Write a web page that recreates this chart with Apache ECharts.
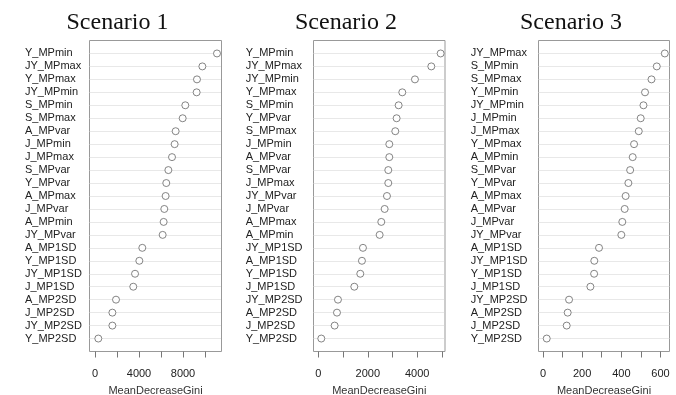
<!DOCTYPE html>
<html>
<head>
<meta charset="utf-8">
<script src="https://cdn.jsdelivr.net/npm/echarts@6/dist/echarts.min.js"></script>
<style>
html,body{margin:0;padding:0;background:#fff;}
#chart{width:676px;height:395px;}
</style>
</head>
<body>
<div id="chart"></div>
<script>
var titles = ['Scenario 1', 'Scenario 2', 'Scenario 3'];

var labels1 = ['Y_MPmin','JY_MPmax','Y_MPmax','JY_MPmin','S_MPmin','S_MPmax','A_MPvar','J_MPmin','J_MPmax','S_MPvar','Y_MPvar','A_MPmax','J_MPvar','A_MPmin','JY_MPvar','A_MP1SD','Y_MP1SD','JY_MP1SD','J_MP1SD','A_MP2SD','J_MP2SD','JY_MP2SD','Y_MP2SD'];
var values1 = [11090,9760,9270,9240,8210,7970,7330,7240,7000,6670,6480,6420,6300,6240,6150,4300,4030,3640,3480,1910,1580,1580,300];

var labels2 = ['Y_MPmin','JY_MPmax','JY_MPmin','Y_MPmax','S_MPmin','Y_MPvar','S_MPmax','J_MPmin','A_MPvar','S_MPvar','J_MPmax','JY_MPvar','J_MPvar','A_MPmax','A_MPmin','JY_MP1SD','A_MP1SD','Y_MP1SD','J_MP1SD','JY_MP2SD','A_MP2SD','J_MP2SD','Y_MP2SD'];
var values2 = [4946,4569,3908,3396,3248,3167,3113,2871,2871,2830,2830,2776,2682,2547,2480,1806,1765,1698,1456,795,755,660,121];

var labels3 = ['JY_MPmax','S_MPmin','S_MPmax','Y_MPmin','JY_MPmin','J_MPmin','J_MPmax','Y_MPmax','A_MPmin','S_MPvar','Y_MPvar','A_MPmax','A_MPvar','J_MPvar','JY_MPvar','A_MP1SD','JY_MP1SD','Y_MP1SD','J_MP1SD','JY_MP2SD','A_MP2SD','J_MP2SD','Y_MP2SD'];
var values3 = [622,581,554,521,513,499,489,465,458,445,436,422,417,405,400,286,262,261,242,133,126,121,19];

var tickValues1 = [0,2000,4000,6000,8000,10000];
var tickLabels1 = [0,4000,8000];
var tickValues2 = [0,1000,2000,3000,4000,5000];
var tickLabels2 = [0,2000,4000];
var tickValues3 = [0,100,200,300,400,500,600];
var tickLabels3 = [0,200,400,600];

var axisTitle = 'MeanDecreaseGini';

var panels = [
  {labels: labels1, values: values1, ticks: tickValues1, tl: tickLabels1, min: -500, max: 11500, left: 89.5, width: 132, margin: 64.5, tx: 112.5},
  {labels: labels2, values: values2, ticks: tickValues2, tl: tickLabels2, min: -194, max: 5123, left: 313.5, width: 131.5, margin: 67.8, tx: 341},
  {labels: labels3, values: values3, ticks: tickValues3, tl: tickLabels3, min: -23, max: 646, left: 538.5, width: 131, margin: 67.8, tx: 566}
];

var sans = 'Liberation Sans, Arial, Helvetica, sans-serif';
var option = {
  animation: false,
  backgroundColor: '#fff',
  title: [], grid: [], xAxis: [], yAxis: [], series: []
};
panels.forEach(function (p, i) {
  option.title.push({
    text: titles[i], left: p.tx, top: 6, textAlign: 'center',
    textStyle: {fontFamily: 'Liberation Serif, Times New Roman, serif', fontSize: 24, fontWeight: 'normal', color: '#111'}
  });
  option.grid.push({
    left: p.left, width: p.width, top: 40.5, height: 311,
    outerBoundsMode: 'none',
    show: true, borderColor: '#999', borderWidth: 1, backgroundColor: 'transparent', containLabel: false
  });
  option.xAxis.push({
    type: 'value', gridIndex: i, min: p.min, max: p.max, position: 'bottom', offset: 0,
    axisLine: {show: false, onZero: false},
    axisTick: {show: true, length: 6, customValues: p.ticks, lineStyle: {color: '#777'}},
    axisLabel: {show: true, customValues: p.tl, fontSize: 11, color: '#222', fontFamily: sans, margin: 16.5,
      formatter: function (v) { return String(v); }},
    splitLine: {show: false},
    name: axisTitle, nameLocation: 'middle', nameGap: 33.5,
    nameTextStyle: {fontSize: 11, color: '#333', fontFamily: sans}
  });
  option.yAxis.push({
    type: 'value', gridIndex: i, min: 0, max: 24, interval: 1, inverse: true,
    axisLine: {show: false, onZero: false}, axisTick: {show: false},
    axisLabel: {
      show: true, align: 'left', margin: p.margin, fontSize: 11, color: '#222', fontFamily: sans,
      formatter: (function (labs) { return function (v) { return labs[v - 1] || ''; }; })(p.labels)
    },
    splitLine: {show: true, showMinLine: false, showMaxLine: false, lineStyle: {color: '#d0d0d0', type: 'dotted', width: 1}}
  });
  option.series.push({
    type: 'scatter', xAxisIndex: i, yAxisIndex: i,
    symbol: 'circle', symbolSize: 7,
    itemStyle: {color: '#fff', borderColor: '#666', borderWidth: 1},
    data: p.values.map(function (v, k) { return [v, k + 1]; })
  });
});
var chart = echarts.init(document.getElementById('chart'), null, {renderer: 'canvas'});
chart.setOption(option);
</script>
</body>
</html>
